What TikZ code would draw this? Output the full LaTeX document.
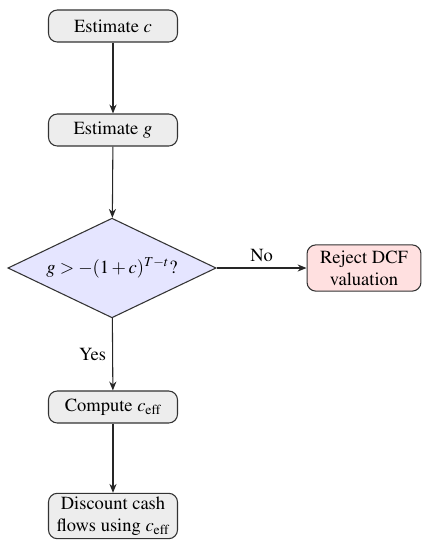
\documentclass[tikz,border=0pt]{standalone}
\usepackage[T1]{fontenc}
\usepackage{mathptmx}
\usetikzlibrary{shapes.geometric,arrows.meta}
\begin{document}
\begin{tikzpicture}[x=0.5618pt,y=-0.5618pt,
  every node/.style={font=\fontsize{10.4pt}{12.2pt}\selectfont},
  procbox/.style={draw=black!80, line width=0.6pt, rounded corners=5pt, fill=black!7,
    minimum width=72.5pt, minimum height=18pt, align=center, inner xsep=2pt, inner ysep=2pt},
  rejectbox/.style={procbox, fill=red!12, minimum width=64pt, minimum height=26pt},
  decision/.style={diamond, draw=black!80, line width=0.6pt, fill=blue!10, aspect=2.08,
    minimum width=117pt, minimum height=56pt, inner sep=0pt},
  flow/.style={-{Stealth[length=5pt,width=4pt]}, line width=0.6pt, draw=black!85}]
  \useasboundingbox (0,0) rectangle (435,542);
  \node[procbox] (estc) at (113,26) {Estimate $c$};
  \node[procbox] (estg) at (113,130) {Estimate $g$};
  \node[decision] (check) at (112,268) {$g > -(1+c)^{T-t}$?};
  \node[rejectbox] (reject) at (364,268) {Reject DCF\\valuation};
  \node[procbox] (ceff) at (113,407) {Compute $c_{\mathrm{eff}}$};
  \node[procbox] (disc) at (113,516) {Discount cash\\flows using $c_{\mathrm{eff}}$};
  \draw[flow] (estc) -- (estg);
  \draw[flow] (estg) -- (check);
  \draw[flow] (check) -- node[above] {No} (reject);
  \draw[flow] (check) -- node[left] {Yes} (ceff);
  \draw[flow] (ceff) -- (disc);
\end{tikzpicture}
\end{document}
